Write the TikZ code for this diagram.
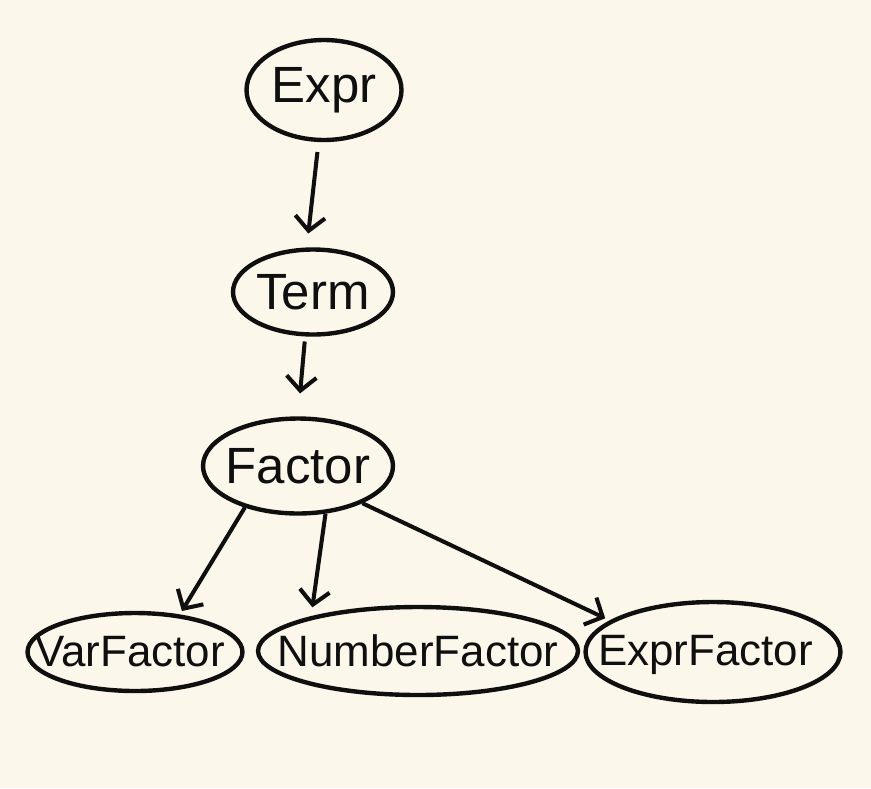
\documentclass[tikz,border=0pt]{standalone}
\usepackage{fontspec}
\setmainfont{Liberation Sans}
\usetikzlibrary{shapes.geometric, arrows.meta}
\definecolor{paper}{RGB}{251,247,234}
\definecolor{ink}{RGB}{15,15,15}

\begin{document}
\begin{tikzpicture}[
    x=0.02cm, y=-0.02cm,
    % Node Styles
    bubble/.style={
        ellipse,
        draw=ink,
        line width=2.5pt,
        inner sep=0pt
    },
    bigtext/.style={
        text=ink,
        font=\fontsize{29}{32}\selectfont
    },
    smalltext/.style={
        text=ink,
        font=\fontsize{25}{28}\selectfont
    },
    link/.style={
        -{Straight Barb[length=8pt,width=17pt]},
        draw=ink,
        line width=2.3pt
    }
]

    % --- Background ---
    \fill[paper] (0,0) rectangle (871,788);
    \useasboundingbox (0,0) rectangle (871,788);

    % --- Chain ---
    \node[bubble, minimum width=3.1cm, minimum height=2cm,
        label={[bigtext]center:Expr}] (expr) at (324,90) {};
    \node[bubble, minimum width=3.2cm, minimum height=1.7cm,
        label={[bigtext]center:Term}] (term) at (313,292) {};
    \node[bubble, minimum width=3.8cm, minimum height=1.9cm,
        label={[bigtext]center:Factor}] (fac) at (298,466) {};

    % --- Leaves ---
    \node[bubble, minimum width=4.3cm, minimum height=1.56cm,
        label={[smalltext, xshift=-0.1cm]center:VarFactor}] (var) at (135,652) {};
    \node[bubble, minimum width=6.4cm, minimum height=1.76cm,
        label={[smalltext]center:NumberFactor}] (num) at (418,651) {};
    \node[bubble, minimum width=5.1cm, minimum height=2cm,
        label={[smalltext, xshift=-0.15cm, yshift=-0.05cm]center:ExprFactor}] (ef) at (713,652) {};

    % --- Connectors ---
    \draw[link, shorten <=0.2cm, shorten >=0.28cm] (expr.264) -- (term.98);
    \draw[link, shorten <=0.1cm, shorten >=0.46cm] (term.260) -- (fac.90);
    \draw[link, shorten >=0.08cm] (fac.218) -- (var.40);
    \draw[link, shorten >=0.18cm] (fac.300) -- (num.162);
    \draw[link, shorten >=0.1cm] (fac.330) -- (ef.163);

\end{tikzpicture}
\end{document}
